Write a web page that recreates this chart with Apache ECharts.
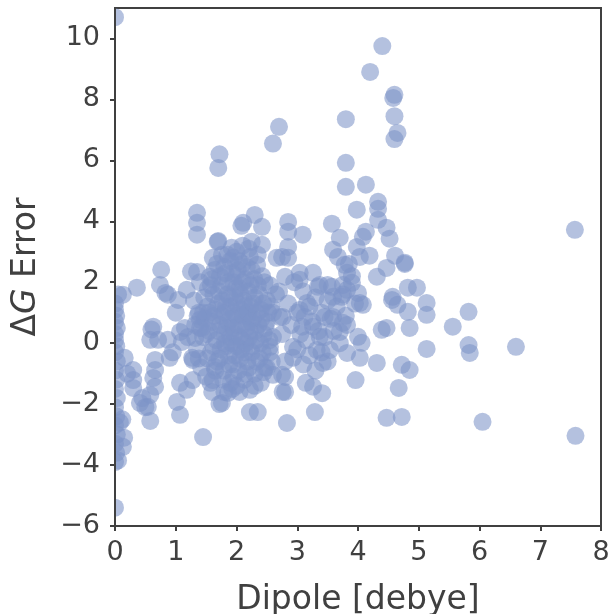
<!DOCTYPE html>
<html>
<head>
<meta charset="utf-8">
<script src="https://cdn.jsdelivr.net/npm/echarts@6/dist/echarts.min.js"></script>
<style>
html,body{margin:0;padding:0;background:#fff;}
#chart{width:610px;height:614px;}
</style>
</head>
<body>
<div id="chart"></div>
<script>
// x tick labels and y tick labels
const xTicks = [0,1,2,3,4,5,6,7,8];
const yTicks = [-6,-4,-2,0,2,4,6,8,10];

// [dipole (debye), ΔG error] pairs, grouped by dipole range
const zeroDipole = [
  [0,10.7],[0,1.3],[0,1.1],[0.02,0.9],[0,0.7],[0.03,0.5],[0,0.3],[0,0.1],[0.02,-0.1],[0,-0.3],
  [0.03,-0.6],[0,-0.9],[0.02,-1.2],[0,-1.5],[0.03,-1.8],[0,-2.1],[0.02,-2.4],[0,-2.7],[0.03,-3.0],
  [0,-3.3],[0.02,-3.6],[0,-3.9],[0,-5.4],[0.05,-3.85],[0.08,-2.6],[0.13,-3.4],[0.15,-3.1],
  [0.12,-2.5],[0.05,1.6],[0.13,1.59]
];
const lowDipole = [
  [0.16,-0.48],[0.3,-0.88],[0.3,-1.21],[0.3,-1.47],[0.36,1.82],[0.41,-1.96],[0.5,-2.1],[0.54,-2.09],
  [0.58,-1.7],[0.58,-2.55],[0.58,0.11],[0.63,0.54],[0.63,-1.14],[0.66,-0.55],[0.66,-0.88],[0.66,-1.43],
  [0.71,0.11],[0.74,1.91],[0.76,2.41],[0.87,1.59],[0.87,0.11],[0.9,-0.48],[1.0,1.0],[1.04,1.42],
  [1.07,0.37],[1.1,0.04],[1.07,-1.3],[1.02,-1.93],[1.07,-2.35],[1.18,1.75],[1.18,-1.53],[1.27,-0.48],
  [1.28,-1.21],[1.25,2.35],[1.2,0.2],[0.2,-1.0],[0.45,-1.8],[0.6,0.45],[0.83,1.65],[0.95,-0.3],[1.15,0.5]
];
const clusterDipole = [
  [1.35,4.28],[1.35,3.95],[1.35,3.56],[1.69,3.33],[1.92,3.13],[2.11,3.95],[2.08,3.85],[2.3,4.21],
  [2.42,3.82],[2.25,3.33],[2.42,3.23],[2.66,2.8],[2.34,2.57],[2.22,2.83],[1.61,2.8],[1.35,2.34],
  [1.56,2.18],[1.28,-0.55],[1.4,0.77],[1.32,0.17],[1.4,0.5],[1.45,-3.08],[1.61,-1.21],[1.64,-0.78],
  [1.76,-1.96],[1.86,-1.63],[1.72,-2.0],[2.22,-2.26],[2.35,-2.26],[2.22,-1.53],[2.55,-0.12],
  [2.5,-0.81],[2.6,-1.04],[2.45,-0.95],[1.72,6.2],[1.7,5.75],
  [1.52,1.2],[1.55,0.4],[1.58,-0.3],[1.6,2.1],[1.62,1.6],[1.63,0.9],[1.65,-0.9],[1.67,0.1],
  [1.68,2.6],[1.7,1.3],[1.72,-0.5],[1.73,0.6],[1.75,1.9],[1.76,2.9],[1.78,-1.2],[1.8,0.3],
  [1.8,1.0],[1.82,2.3],[1.83,-0.1],[1.85,1.6],[1.86,0.7],[1.88,-0.7],[1.9,2.7],[1.9,1.2],
  [1.92,0.0],[1.93,-1.5],[1.95,2.0],[1.95,0.5],[1.97,1.5],[1.98,-0.4],[2.0,3.0],[2.0,0.9],
  [2.02,2.4],[2.03,-0.9],[2.05,1.8],[2.05,0.2],[2.07,1.1],[2.08,-0.2],[2.1,2.6],[2.1,0.6],
  [2.12,1.4],[2.13,-1.2],[2.15,2.1],[2.15,0.0],[2.17,0.9],[2.18,-0.6],[2.2,1.7],[2.2,3.1],
  [2.22,0.4],[2.23,1.2],[2.25,-0.3],[2.25,2.4],[2.27,0.8],[2.3,1.5],[2.3,-1.0],[2.32,0.1],
  [2.35,1.9],[2.36,0.6],[2.38,-0.5],[2.4,1.1],[2.42,2.2],[2.45,0.3],[2.47,-0.8],[2.5,1.4],
  [2.5,0.7],[2.55,1.9],[2.55,-0.3],[2.6,1.0],[2.6,0.2],[2.65,1.6],
  [1.3,1.4],[1.32,0.6],[1.35,-0.2],[1.38,1.0],[1.4,2.0],[1.42,-0.8],[1.45,0.2],[1.47,1.5],
  [1.5,-1.1],[1.48,0.8],[1.7,3.35],[1.85,2.9],[1.6,-1.6],[1.95,-1.1],[2.05,-1.6],[2.4,-1.3]
];
const clusterCore = [
  [1.58,1.9],[1.6,0.7],[1.62,-0.1],[1.64,2.4],[1.66,1.1],[1.68,-0.6],[1.7,0.4],[1.71,1.7],
  [1.73,2.2],[1.74,-0.2],[1.76,0.9],[1.77,1.4],[1.79,-0.9],[1.8,2.5],[1.81,0.0],[1.83,1.2],
  [1.84,0.5],[1.86,2.0],[1.87,-0.4],[1.89,1.5],[1.9,0.2],[1.91,0.8],[1.93,2.3],[1.94,-0.7],
  [1.96,1.0],[1.97,0.3],[1.99,1.8],[2.0,-0.1],[2.01,1.3],[2.03,0.6],[2.04,2.7],[2.06,-0.5],
  [2.07,1.6],[2.09,0.1],[2.1,2.0],[2.11,0.9],[2.13,-0.3],[2.14,1.2],[2.16,0.5],[2.17,2.5],
  [2.19,1.0],[2.2,-0.8],[2.21,0.2],[2.23,1.9],[2.24,0.7],[2.26,-0.1],[2.28,1.3],[2.29,2.1],
  [2.31,0.4],[2.33,-0.6],[2.34,1.0],[2.37,1.6],[2.39,0.0],[2.41,0.8],[2.43,-0.3],[2.44,1.3],
  [2.46,2.0],[2.48,0.5],[2.52,1.0],[2.54,0.1],[2.57,1.2],[2.58,-0.6],[1.5,0.3],[1.52,-0.5],
  [1.53,1.8],[1.55,1.0],[1.57,-1.3],[1.45,1.0],[1.43,0.5],[1.38,-0.5],[1.36,0.9],[1.9,-1.3],
  [2.0,-1.4],[2.15,-1.0],[2.3,-1.4],[1.8,-1.6],[2.1,3.2],[1.95,2.8],[2.35,2.9],[2.0,2.2]
];
const midDipole = [
  [2.6,6.55],[2.7,7.1],[2.85,3.98],[2.85,3.66],[3.09,3.56],[2.85,3.16],[2.85,2.8],[2.75,2.83],
  [3.57,3.92],[3.7,3.46],[3.59,3.07],[3.98,3.16],[3.67,2.83],[3.78,2.57],[3.82,2.31],[3.75,1.91],
  [3.57,1.85],[3.37,1.91],[3.26,2.31],[3.04,2.31],[3.04,2.08],[2.8,2.18],[2.76,0.86],[2.75,-1.04],
  [2.76,-1.6],[2.83,-2.62],[3.96,-1.21],[3.29,-2.26],[3.41,-1.64],[3.26,-1.43],[3.14,-1.3],[2.8,-1.6],
  [2.8,-1.11],[3.82,-0.32],[3.42,-0.65],[3.32,-0.22],[3.54,-0.22],[3.37,0.21],[2.93,-0.12],
  [2.93,-0.48],[2.71,0.86],[3.12,0.86],[3.08,0.54],[3.26,0.54],[3.45,0.86],[3.59,0.86],[3.75,0.67],
  [3.7,0.37],[3.82,0.6],[3.16,1.32],[3.04,1.09],[3.34,1.85],[3.5,1.91],[3.59,1.52],[3.73,1.52],
  [3.82,1.75],[3.9,1.98],[3.8,5.92],[3.8,5.13],[3.98,4.38],[3.8,7.35],
  [2.7,1.7],[2.75,0.3],[2.8,-0.6],[2.85,1.3],[2.9,0.6],[2.95,2.0],[3.0,-0.2],[3.0,1.0],[3.05,0.3],
  [3.1,1.7],[3.1,-0.7],[3.15,0.1],[3.2,1.2],[3.2,-0.4],[3.25,0.7],[3.3,1.5],[3.3,-0.9],[3.35,0.4],
  [3.4,-0.3],[3.4,1.0],[3.45,0.2],[3.5,1.4],[3.5,-0.6],[3.55,0.8],[3.6,0.4],[3.65,1.2],[3.7,0.0],
  [3.75,1.6],[3.8,0.9],[3.85,2.6],[3.9,2.2],[3.95,1.3]
];
const highDipole = [
  [4.4,9.75],[4.2,8.9],[4.6,8.15],[4.58,8.05],[4.6,7.45],[4.65,6.9],[4.6,6.7],
  [4.13,5.2],[4.33,4.64],[4.33,4.41],[4.33,4.05],[4.47,3.79],[4.52,3.43],[4.13,3.66],[4.08,3.49],
  [4.19,2.87],[4.03,2.83],[4.61,2.87],[4.77,2.6],[4.47,2.47],[4.31,2.18],[4.0,1.65],[4.57,1.52],
  [4.82,1.82],[4.97,1.82],[4.65,1.26],[4.82,1.03],[5.13,1.32],[5.13,0.93],[5.56,0.54],[5.82,1.03],
  [5.82,-0.06],[5.84,-0.32],[5.13,-0.19],[4.85,0.5],[4.47,0.5],[4.39,0.44],[4.72,-0.71],[4.85,-0.88],
  [4.67,-1.47],[4.47,-2.45],[4.72,-2.42],[6.05,-2.58],[4.03,-0.48],[4.06,0.01],[4.31,-0.65],[4.0,0.21],
  [4.03,1.32],[4.08,1.26],[4.56,1.42],[6.6,-0.12],[7.57,3.72],[7.58,-3.04],[4.77,2.64]
];

const allPoints = [].concat(zeroDipole, lowDipole, clusterDipole, clusterCore, midDipole, highDipole);

const FONT = 'DejaVu Sans';
const TXT = '#404040';

const chart = echarts.init(document.getElementById('chart'), null, {renderer: 'canvas'});
chart.setOption({
  animation: false,
  backgroundColor: '#ffffff',
  grid: {left: 115, right: 9, top: 8, bottom: 88, outerBoundsMode: 'none', containLabel: false,
    show: true, borderColor: TXT, borderWidth: 2, backgroundColor: 'transparent'},
  graphic: [{
    type: 'rect', left: 0, top: 0, zlevel: 1, z: 0,
    shape: {width: 114, height: 530},
    style: {fill: '#ffffff'}
  }],
  xAxis: {
    type: 'value', min: 0, max: 8, interval: 1, zlevel: 2,
    name: 'Dipole [debye]', nameLocation: 'middle', nameGap: 58,
    nameTextStyle: {fontFamily: FONT, fontSize: 33, color: TXT},
    axisLine: {show: true, onZero: false, lineStyle: {color: TXT, width: 2}},
    axisTick: {show: true, length: 5, lineStyle: {color: TXT, width: 2}},
    axisLabel: {fontFamily: FONT, fontSize: 27, color: TXT, margin: 13,
      formatter: v => xTicks.includes(v) ? String(v) : ''},
    splitLine: {show: false}
  },
  yAxis: {
    type: 'value', min: -6, max: 11, interval: 2, zlevel: 2,
    name: '{d|Δ}{g|G}{e| Error}', nameLocation: 'middle', nameGap: 72,
    nameTextStyle: {fontFamily: FONT, fontSize: 33, color: TXT,
      rich: {
        d: {fontFamily: FONT, fontSize: 33, color: TXT},
        g: {fontFamily: FONT, fontSize: 33, color: TXT, fontStyle: 'italic'},
        e: {fontFamily: FONT, fontSize: 33, color: TXT}
      }},
    axisLine: {show: true, onZero: false, lineStyle: {color: TXT, width: 2}},
    axisTick: {show: true, length: 5, lineStyle: {color: TXT, width: 2}, customValues: yTicks},
    axisLabel: {fontFamily: FONT, fontSize: 27, color: TXT, margin: 15, customValues: yTicks,
      formatter: v => yTicks.includes(v) ? (v < 0 ? '\u2212' + Math.abs(v) : String(v)) : ''},
    splitLine: {show: false}
  },
  series: [{
    type: 'scatter',
    data: allPoints,
    symbol: 'circle',
    symbolSize: 18,
    clip: false,
    z: 2,
    itemStyle: {color: 'rgba(125,148,199,0.72)', borderWidth: 0}
  }]
});
</script>
</body>
</html>
